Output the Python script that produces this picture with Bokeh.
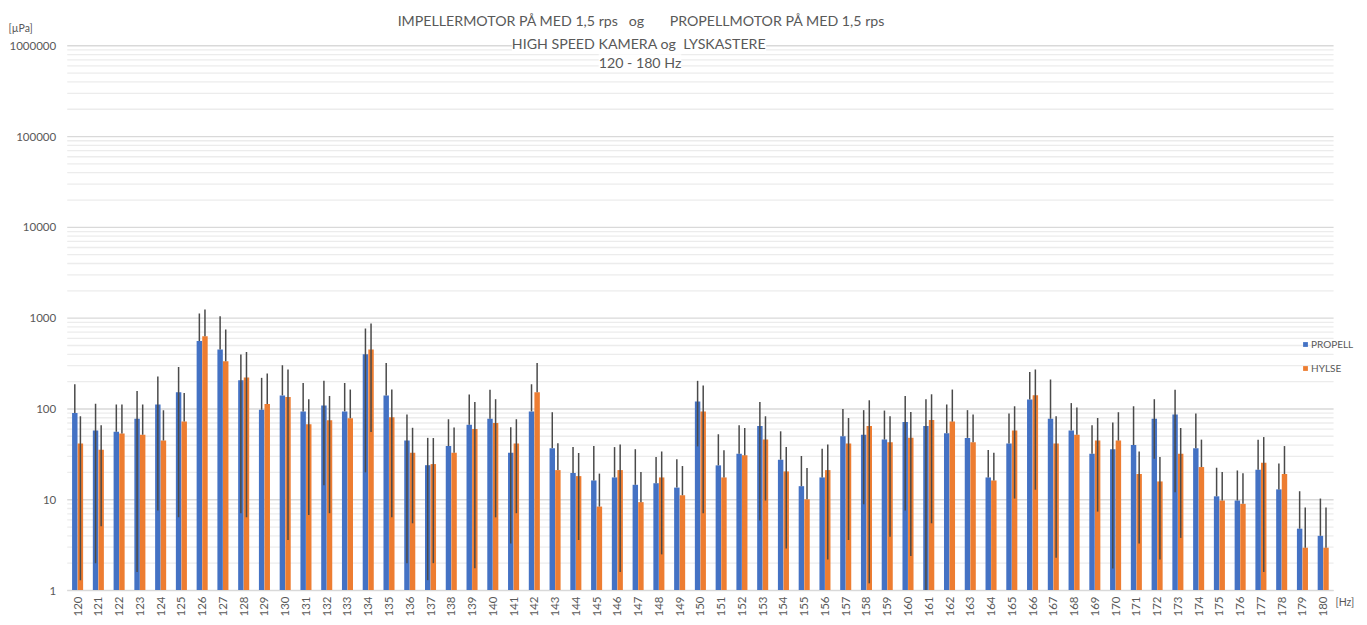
import math
import numpy as np
from bokeh.plotting import figure
from bokeh.models import (Range1d, FixedTicker, NumeralTickFormatter, Label,
                          Legend, LegendItem, ColumnDataSource)
from bokeh.transform import dodge
from bokeh.embed import file_html
from bokeh.resources import INLINE

nan = float("nan")

hz = list(range(120, 181))

propell = [90, 58, 56, 78, 112, 153, 562, 452, 207, 98, 141, 94, 109, 94, 401,
           141, 45, 24, 39, 67, 78, 33, 94, 37, 19.7, 16.3, 17.6, 14.6, 15.2, 13.6,
           121, 23.9, 32, 65, 27.6, 14.1, 17.6, 50, 52, 46, 72, 65, 54, 48, 17.6,
           41.5, 127, 78, 58, 32, 36, 40, 78, 87, 37, 10.9, 9.8, 21.4, 13, 4.8, 4.0]
propell_hi = [187, 114, 112, 158, 227, 290, 1127, 1052, 398, 220, 303, 193, 204, 193, 769,
              321, 87, 48, 77, 144, 163, 63, 187, 92, 38, 39, 38, 36, 29.5, 28,
              204, 52.6, 66, 119, 56.7, 30.3, 36.4, 100, 97, 96, 139, 128, 112, 97, 35.3,
              89, 256, 211, 116, 66, 71, 107, 128, 163, 89, 22.5, 21, 45.9, 25, 12.4, 10.3]
propell_lo = [nan, 2, nan, 1.6, 7.6, 6.4, nan, nan, 7.1, nan, nan, nan, 14.4, nan, 20,
              nan, 2, 1.3, nan, nan, nan, 3.3, nan, nan, nan, nan, nan, nan, nan, nan,
              38.7, nan, nan, 5.9, nan, nan, nan, nan, 8.9, nan, 7.6, 1.0, nan, nan, nan,
              nan, nan, nan, nan, nan, 1.75, nan, 28.3, 12.1, nan, nan, nan, nan, nan, nan, nan]

hylse = [41.5, 35.6, 53.5, 52, 44.8, 72.5, 633, 336, 222, 113.5, 135.6, 67.7, 75, 79, 452,
         81, 33, 24.7, 33, 60, 70, 41.5, 153, 21.2, 18.2, 8.4, 21.2, 9.4, 17.6, 11.2,
         94, 17.6, 30.8, 46, 20.5, 10.1, 21.2, 41.5, 65, 43, 48.3, 75.6, 72.5, 43, 16.3,
         58, 141.5, 41.5, 52, 44.8, 44.8, 19.2, 15.9, 32, 22.9, 9.8, 9.0, 25.6, 19.2, 2.96, 2.96]
hylse_hi = [83, 66, 112, 112, 96.7, 150, 1247, 750, 425, 245, 272, 128, 139, 163.5, 874,
            163.5, 62, 47.8, 62.6, 119, 128, 77, 321, 42, 32.7, 19.4, 40.7, 20.2, 34, 23.5,
            181, 35, 61.7, 83, 38, 22.3, 40.7, 79.5, 124.6, 83, 92.6, 145, 163.5, 86.7, 33,
            107, 272, 83, 103.5, 79.5, 92, 34, 29.5, 61.7, 45.9, 20.2, 19.6, 49, 39, 8.2, 8.2]
hylse_lo = [1.3, 5.1, nan, nan, nan, nan, nan, nan, 6.4, nan, 3.6, 6.8, 7.1, nan, 55.7,
            6.4, 5.5, 2.0, nan, 1.76, 6.4, 7.1, nan, nan, 3.6, nan, 1.6, nan, 2.5, nan,
            7.1, nan, nan, 9.8, 2.9, nan, 2.2, 3.6, 1.2, 3.9, 2.4, 5.5, nan, nan, nan,
            10.3, 12.9, 2.3, nan, 7.4, nan, 3.3, 2.2, 3.8, nan, nan, nan, 1.6, nan, nan, nan]

y_major = [10 ** k for k in range(7)]
y_minor = [m * 10 ** k for k in range(6) for m in range(2, 10)]

NB = "\u00a0"
title_lines = ["IMPELLERMOTOR PÅ MED 1,5 rps" + NB * 2 + " og" + NB * 6 + " PROPELLMOTOR PÅ MED 1,5 rps",
               "HIGH SPEED KAMERA og" + NB + " LYSKASTERE",
               "120 - 180 Hz"]

FONT = "Lato"
TXT = "#595959"
BLUE = "#4472C4"
ORANGE = "#ED7D31"
ERR = "#4a4a4a"

# ---- layout: the frame fills the whole canvas; axes are pinned inside it
W_FIG, H_FIG = 1367, 625
STEP = 20.76          # px per category
X_FIRST = 77.1        # canvas px of first category centre
DEC = 90.78           # px per decade
Y_ONE = 590.0         # canvas px of value 1
x_start = hz[0] - X_FIRST / STEP
x_end = x_start + W_FIG / STEP
y_end = 10 ** (Y_ONE / DEC)
y_start = 10 ** ((Y_ONE - H_FIG) / DEC)

pv = np.array(propell, dtype=float)
hv = np.array(hylse, dtype=float)
plo = np.array(propell_lo, dtype=float)
hlo = np.array(hylse_lo, dtype=float)

src = ColumnDataSource(dict(
    hz=np.array(hz, dtype=float),
    propell=pv, propell_hi=np.array(propell_hi, dtype=float),
    propell_lo=np.where(np.isnan(plo), pv, plo),
    hylse=hv, hylse_hi=np.array(hylse_hi, dtype=float),
    hylse_lo=np.where(np.isnan(hlo), hv, hlo),
))

p = figure(width=W_FIG, height=H_FIG, y_axis_type="log",
           x_range=Range1d(x_start, x_end), y_range=Range1d(y_start, y_end),
           output_backend="svg", toolbar_location=None, min_border=0)
p.min_border_left = p.min_border_right = p.min_border_top = p.min_border_bottom = 0
p.outline_line_color = None
p.background_fill_color = "white"
p.border_fill_color = "white"

# grid lines limited to the category span
gx0, gx1 = hz[0] - 0.5, hz[-1] + 0.5
p.segment(x0=gx0, x1=gx1, y0=y_minor, y1=y_minor, line_color="#ececec", line_width=1.3)
p.segment(x0=gx0, x1=gx1, y0=y_major, y1=y_major, line_color="#d9d9d9", line_width=1.4)
p.xgrid.visible = False
p.ygrid.visible = False

OFF = 0.135
BW = 0.262
r1 = p.vbar(x=dodge("hz", -OFF, range=p.x_range), top="propell", bottom=1, width=BW,
            fill_color=BLUE, line_color=None, source=src)
r2 = p.vbar(x=dodge("hz", OFF, range=p.x_range), top="hylse", bottom=1, width=BW,
            fill_color=ORANGE, line_color=None, source=src)
p.segment(x0=dodge("hz", -OFF, range=p.x_range), x1=dodge("hz", -OFF, range=p.x_range),
          y0="propell_lo", y1="propell_hi", line_color=ERR, line_width=1.5, source=src)
p.segment(x0=dodge("hz", OFF, range=p.x_range), x1=dodge("hz", OFF, range=p.x_range),
          y0="hylse_lo", y1="hylse_hi", line_color=ERR, line_width=1.5, source=src)

# axes
xa = p.xaxis[0]
xa.fixed_location = 1
xa.bounds = (gx0, gx1)
xa.ticker = FixedTicker(ticks=hz)
xa.major_label_orientation = math.pi / 2
xa.major_tick_line_color = None
xa.minor_tick_line_color = None
xa.major_tick_out = 0
xa.axis_line_color = "#d9d9d9"
xa.major_label_standoff = 6
xa.major_label_text_font = FONT
xa.major_label_text_font_size = "11.5px"
xa.major_label_text_color = TXT

ya = p.yaxis[0]
ya.fixed_location = gx0
ya.bounds = (1, 1e6)
ya.ticker = FixedTicker(ticks=y_major, minor_ticks=[])
ya.formatter = NumeralTickFormatter(format="0")
ya.axis_line_color = None
ya.major_tick_line_color = None
ya.minor_tick_line_color = None
ya.major_tick_out = 0
ya.major_label_standoff = 11
ya.major_label_text_font = FONT
ya.major_label_text_font_size = "11.5px"
ya.major_label_text_color = TXT

# titles (screen units from the canvas bottom-left)
for t, (tx, ty) in zip(title_lines, [(641, 605), (638.5, 581.7), (639.5, 562.7)]):
    p.add_layout(Label(x=tx, y=ty, x_units="screen", y_units="screen", text=t,
                       text_align="center", text_baseline="alphabetic",
                       text_font=FONT, text_font_size="14.2px", text_color=TXT,
                       background_fill_color="white"))

p.add_layout(Label(x=8, y=598, x_units="screen", y_units="screen", text="[µPa]",
                   text_align="left", text_baseline="alphabetic",
                   text_font=FONT, text_font_size="10.5px", text_color=TXT))
p.add_layout(Label(x=1335, y=24, x_units="screen", y_units="screen", text="[Hz]",
                   text_align="left", text_baseline="alphabetic",
                   text_font=FONT, text_font_size="10.5px", text_color=TXT))

legend = Legend(items=[LegendItem(label="PROPELL", renderers=[r1]),
                       LegendItem(label="HYLSE", renderers=[r2])],
                location=(1302, 248), orientation="vertical",
                glyph_width=6, glyph_height=6, label_height=18, spacing=6,
                padding=0, margin=0, label_standoff=3,
                border_line_color=None, background_fill_alpha=0,
                label_text_font=FONT, label_text_font_size="10px", label_text_color=TXT)
p.add_layout(legend)

open("out.html", "w").write(file_html(p, INLINE))
